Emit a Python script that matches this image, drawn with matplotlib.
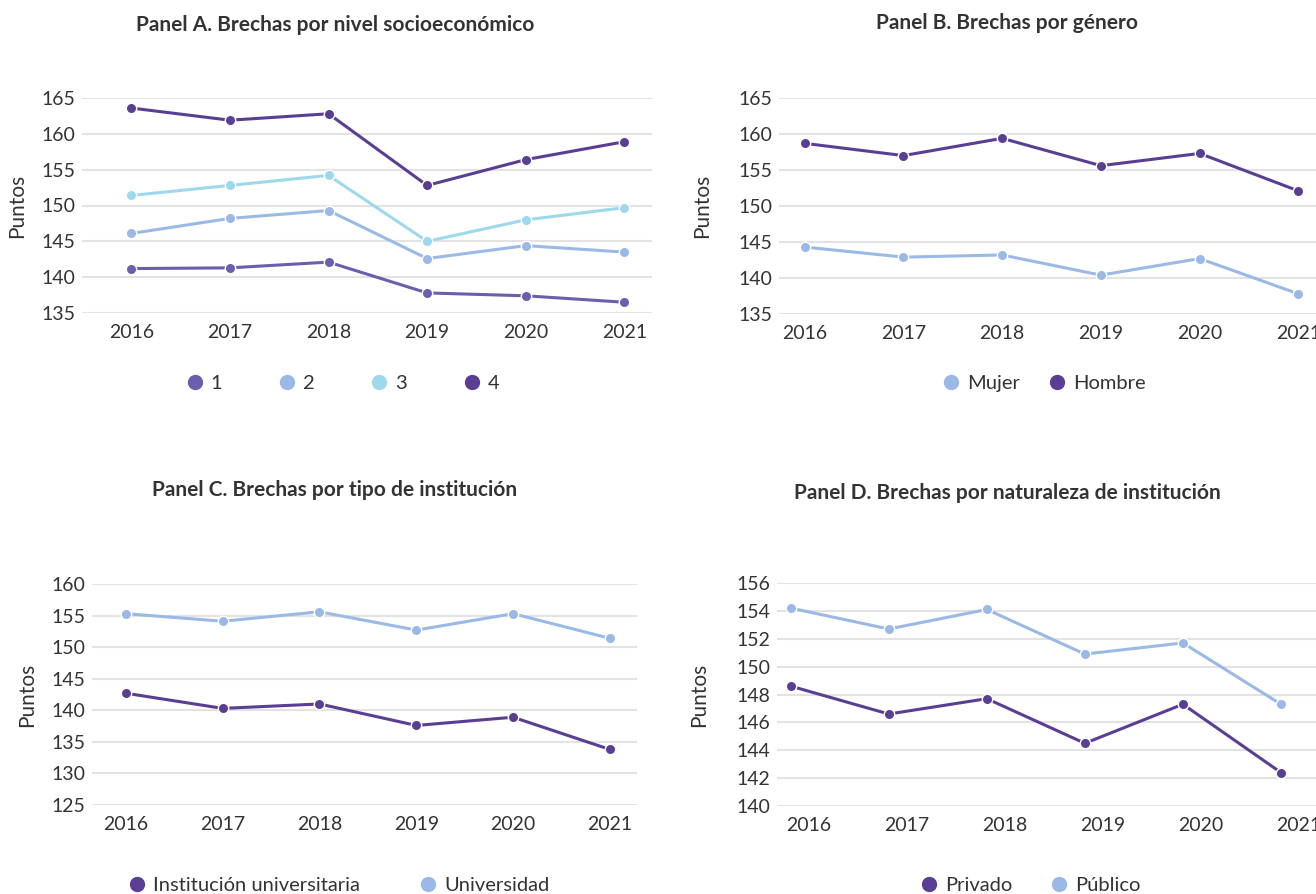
import matplotlib
matplotlib.use("Agg")
import matplotlib.pyplot as plt
from matplotlib.lines import Line2D

plt.rcParams['font.family'] = ['Lato', 'DejaVu Sans']

years = ['2016', '2017', '2018', '2019', '2020', '2021']

# Panel A: nivel socioeconomico
nse_labels = ['1', '2', '3', '4']
nse_1 = [141.2, 141.3, 142.1, 137.8, 137.4, 136.5]
nse_2 = [146.1, 148.2, 149.3, 142.6, 144.4, 143.5]
nse_3 = [151.4, 152.8, 154.2, 145.0, 148.0, 149.7]
nse_4 = [163.6, 161.9, 162.8, 152.8, 156.4, 158.9]

# Panel B: genero
mujer = [144.3, 142.9, 143.2, 140.4, 142.7, 137.8]
hombre = [158.7, 157.0, 159.4, 155.6, 157.3, 152.1]

# Panel C: tipo de institucion
inst_univ = [142.7, 140.3, 141.0, 137.6, 138.9, 133.8]
universidad = [155.3, 154.1, 155.6, 152.7, 155.3, 151.4]

# Panel D: naturaleza de institucion
privado = [148.6, 146.6, 147.7, 144.5, 147.3, 142.4]
publico = [154.2, 152.7, 154.1, 150.9, 151.7, 147.3]

DARK = '#5a3e94'
MID = '#6b5eac'
LIGHT = '#9bb9e6'
CYAN = '#9dd8ec'
TXT = '#333333'
GRID = '#e3e3e3'

W, H = 1316, 894
fig = plt.figure(figsize=(W / 100, H / 100), dpi=100)


def make_axes(x0, x1, ytop, ybot):
    return fig.add_axes([x0 / W, 1 - ybot / H, (x1 - x0) / W, (ybot - ytop) / H])


def style(ax, ylim, yticks, xlim, label_x):
    ax.set_ylim(*ylim)
    ax.set_yticks(yticks)
    ax.set_xlim(*xlim)
    ax.set_xticks(range(len(years)))
    ax.set_xticklabels(years)
    for s in ax.spines.values():
        s.set_visible(False)
    ax.grid(axis='y', color=GRID, linewidth=1.5)
    ax.set_axisbelow(True)
    ax.tick_params(length=0, labelsize=14, colors=TXT)
    ax.tick_params(axis='x', pad=8)
    ax.tick_params(axis='y', pad=5)
    ax.set_ylabel('Puntos', fontsize=15, color=TXT)
    ax.yaxis.set_label_coords(label_x, 0.5)


def plot_line(ax, xs, ys, color):
    ax.plot(xs, ys, color=color, linewidth=2.2, marker='o', markersize=7.5,
            markeredgecolor='white', markeredgewidth=1, clip_on=False, zorder=3)


def legend(ax, labels, colors, anchor, colspacing):
    handles = [Line2D([], [], linestyle='none', marker='o', markersize=10,
                      color=c) for c in colors]
    ax.legend(handles, labels, loc='center', bbox_to_anchor=anchor,
              bbox_transform=fig.transFigure, ncol=len(labels), frameon=False,
              fontsize=14.5, labelcolor=TXT, handletextpad=0.3,
              columnspacing=colspacing, handlelength=1.0)


def title(x, y, text):
    fig.text(x / W, 1 - y / H, text, ha='center', va='center',
             fontsize=15, fontweight='bold', color=TXT)


xs = list(range(len(years)))

# Panel A
axA = make_axes(82, 652, 98, 313)
for vals, c in zip([nse_1, nse_2, nse_3, nse_4], [MID, LIGHT, CYAN, DARK]):
    plot_line(axA, xs, vals, c)
style(axA, (135, 165), range(135, 166, 5), (-0.5, 5.28), -0.096)
legend(axA, nse_labels, [MID, LIGHT, CYAN, DARK], (342 / W, 1 - 383 / H), 2.7)
title(335, 25, 'Panel A. Brechas por nivel socioeconómico')

# Panel B
axB = make_axes(779, 1330, 98, 314)
plot_line(axB, xs, mujer, LIGHT)
plot_line(axB, xs, hombre, DARK)
style(axB, (135, 165), range(135, 166, 5), (-0.26, 5.32), -0.122)
legend(axB, ['Mujer', 'Hombre'], [LIGHT, DARK], (1043 / W, 1 - 383 / H), 1.35)
title(1007, 23, 'Panel B. Brechas por género')

# Panel C
axC = make_axes(92, 637, 584, 805)
plot_line(axC, xs, inst_univ, DARK)
plot_line(axC, xs, universidad, LIGHT)
style(axC, (125, 160), range(125, 161, 5), (-0.35, 5.28), -0.101)
legend(axC, ['Institución universitaria', 'Universidad'], [DARK, LIGHT],
       (338 / W, 1 - 885 / H), 2.9)
title(335, 490, 'Panel C. Brechas por tipo de institución')

# Panel D (points sit slightly left of the year labels)
axD = make_axes(777, 1330, 583, 806)
xd = [x - 0.18 for x in xs]
plot_line(axD, xd, privado, DARK)
plot_line(axD, xd, publico, LIGHT)
style(axD, (140, 156), range(140, 157, 2), (-0.32, 5.32), -0.123)
legend(axD, ['Privado', 'Público'], [DARK, LIGHT], (1030 / W, 1 - 885 / H), 1.8)
title(1007, 493, 'Panel D. Brechas por naturaleza de institución')

fig.savefig('out.png', dpi=100)
